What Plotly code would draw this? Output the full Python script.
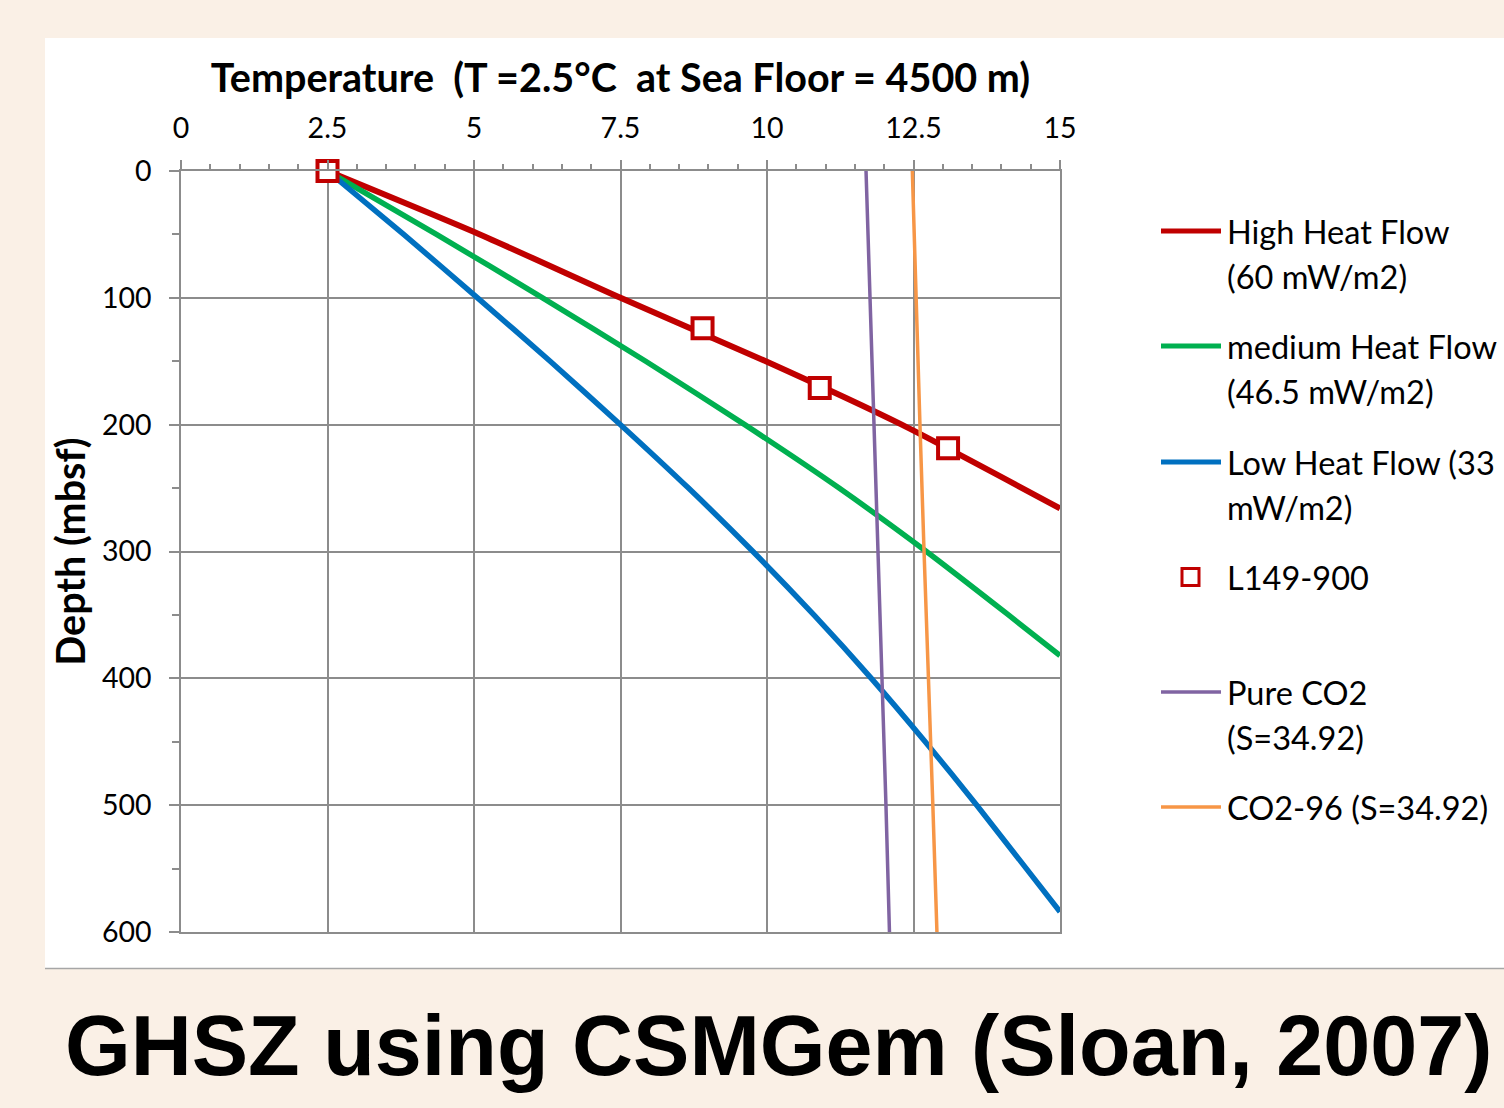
import plotly.graph_objects as go

# ---------------- data ----------------
high_depth = [0, 50, 100, 150, 200, 266]
high_temp = [2.5, 5.1, 7.5, 9.98, 12.3, 15.0]

med_depth = [0, 50, 100, 150, 200, 250, 300, 350, 382]
med_temp = [2.5, 4.36, 6.17, 7.93, 9.62, 11.23, 12.72, 14.12, 15.0]

low_depth = [0, 50, 100, 150, 200, 250, 300, 350, 400, 450, 500, 584]
low_temp = [2.5, 3.8, 5.06, 6.3, 7.5, 8.66, 9.76, 10.8, 11.78, 12.7, 13.58, 15.0]

obs_depth = [0, 124, 171, 218.5]
obs_temp = [2.5, 8.9, 10.9, 13.09]

pure_depth = [0, 100, 200, 300, 400, 500, 600]
pure_temp = [11.69, 11.76, 11.83, 11.9, 11.96, 12.03, 12.09]

co2_depth = [0, 100, 200, 300, 400, 500, 600]
co2_temp = [12.48, 12.54, 12.61, 12.68, 12.76, 12.83, 12.9]

x_ticks = [0, 2.5, 5, 7.5, 10, 12.5, 15]
x_tick_text = ["0", "2.5", "5", "7.5", "10", "12.5", "15"]
y_ticks = [0, 100, 200, 300, 400, 500, 600]

legend_labels = [
    ["High Heat Flow", "(60 mW/m2)"],
    ["medium Heat Flow", "(46.5 mW/m2)"],
    ["Low Heat Flow (33", "mW/m2)"],
    ["L149-900"],
    ["Pure CO2", "(S=34.92)"],
    ["CO2-96 (S=34.92)"],
]

x_title = "Temperature  (T =2.5°C  at Sea Floor = 4500 m)"
y_title = "Depth (mbsf)"
main_title = "GHSZ using CSMGem (Sloan, 2007)"

RED = "#C00000"
GREEN = "#00B050"
BLUE = "#0070C0"
PURPLE = "#8064A2"
ORANGE = "#F79646"
GRID = "#8C8C8C"
PAGE = "#FAF0E6"

W, H = 1504, 1108
L, R, T, B = 181, 1060, 171, 932


def px(xp):
    return (xp - L) / (R - L)


def py(yp):
    return (B - yp) / (B - T)


fig = go.Figure()
fig.add_trace(go.Scatter(x=high_temp, y=high_depth, mode="lines",
                         line=dict(color=RED, width=6, shape="spline", smoothing=0.6),
                         name="High Heat Flow (60 mW/m2)", showlegend=False))
fig.add_trace(go.Scatter(x=med_temp, y=med_depth, mode="lines",
                         line=dict(color=GREEN, width=5.5, shape="spline", smoothing=0.6),
                         name="medium Heat Flow (46.5 mW/m2)", showlegend=False))
fig.add_trace(go.Scatter(x=low_temp, y=low_depth, mode="lines",
                         line=dict(color=BLUE, width=5.5, shape="spline", smoothing=0.6),
                         name="Low Heat Flow (33 mW/m2)", showlegend=False))
fig.add_trace(go.Scatter(x=obs_temp, y=obs_depth, mode="markers",
                         marker=dict(symbol="square", size=20, color="white",
                                     line=dict(color=RED, width=4)),
                         name="L149-900", showlegend=False, cliponaxis=False))
fig.add_trace(go.Scatter(x=pure_temp, y=pure_depth, mode="lines",
                         line=dict(color=PURPLE, width=3.5), name="Pure CO2 (S=34.92)",
                         showlegend=False))
fig.add_trace(go.Scatter(x=co2_temp, y=co2_depth, mode="lines",
                         line=dict(color=ORANGE, width=3.5), name="CO2-96 (S=34.92)",
                         showlegend=False))

shapes = []
# white chart area
shapes.append(dict(type="rect", xref="paper", yref="paper", layer="below",
                   x0=px(45), x1=px(1520), y0=py(968), y1=py(38),
                   fillcolor="white", line=dict(width=0)))
shapes.append(dict(type="line", xref="paper", yref="paper", layer="below",
                   x0=px(45), x1=px(1520), y0=py(968.5), y1=py(968.5),
                   line=dict(color="#A6A6A6", width=1.5)))

annotations = []
legend_colors = [RED, GREEN, BLUE, None, PURPLE, ORANGE]
legend_widths = [5, 5, 5, None, 3.5, 3.5]
entry_y = [231, 346, 462, 577, 692, 807]
for lab, col, lw, ey in zip(legend_labels, legend_colors, legend_widths, entry_y):
    if col is not None:
        shapes.append(dict(type="line", xref="paper", yref="paper",
                           x0=px(1161), x1=px(1221), y0=py(ey), y1=py(ey),
                           line=dict(color=col, width=lw)))
    else:
        shapes.append(dict(type="rect", xref="paper", yref="paper",
                           x0=px(1182), x1=px(1199), y0=py(585.5), y1=py(568.5),
                           fillcolor="white", line=dict(color=RED, width=3)))
    for i, line_text in enumerate(lab):
        annotations.append(dict(text=line_text, xref="paper", yref="paper",
                                x=px(1225), y=py(ey + 45 * i), xanchor="left",
                                yanchor="middle", showarrow=False,
                                font=dict(family="Lato", size=32.5, color="black")))

annotations.append(dict(text=main_title, xref="paper", yref="paper",
                        x=px(63), y=py(1046), xanchor="left", yanchor="middle",
                        showarrow=False,
                        font=dict(family="Liberation Sans, Arial", size=84.5,
                                  color="black", weight="bold")))

fig.update_layout(
    width=W, height=H,
    margin=dict(l=L, r=W - R, t=T, b=H - B, pad=0),
    paper_bgcolor=PAGE,
    plot_bgcolor="white",
    showlegend=False,
    shapes=shapes,
    annotations=annotations,
    font=dict(family="Lato", color="black"),
)

fig.update_xaxes(
    side="top", range=[0, 15], tickmode="array", tickvals=x_ticks, ticktext=x_tick_text,
    showgrid=True, gridcolor=GRID, gridwidth=1.5,
    showline=True, linecolor=GRID, linewidth=1.5, mirror=True,
    ticks="outside", ticklen=9, tickwidth=1.5, tickcolor=GRID,
    ticklabelstandoff=11,
    tickfont=dict(family="Lato", size=28.5, color="black"),
    minor=dict(dtick=0.5, ticks="outside", ticklen=5, tickwidth=1.5, tickcolor=GRID, showgrid=False),
    zeroline=False,
    title=dict(text=x_title, standoff=5,
               font=dict(family="Lato", size=39.5, color="black", weight="bold")),
)
fig.update_yaxes(
    range=[600, 0], tickmode="array", tickvals=y_ticks,
    showgrid=True, gridcolor=GRID, gridwidth=1.5,
    showline=True, linecolor=GRID, linewidth=1.5, mirror=True,
    ticks="outside", ticklen=10, tickwidth=1.5, tickcolor=GRID,
    ticklabelstandoff=12,
    tickfont=dict(family="Lato", size=28.5, color="black"),
    minor=dict(dtick=50, ticks="outside", ticklen=7, tickwidth=1.5, tickcolor=GRID, showgrid=False),
    zeroline=False,
    title=dict(text=y_title, standoff=4,
               font=dict(family="Lato", size=39.5, color="black", weight="bold")),
)

fig.write_html(
    "out.html",
    config={"displayModeBar": False},
    post_script="document.body.style.margin='0';document.body.style.background='%s';" % PAGE,
)
